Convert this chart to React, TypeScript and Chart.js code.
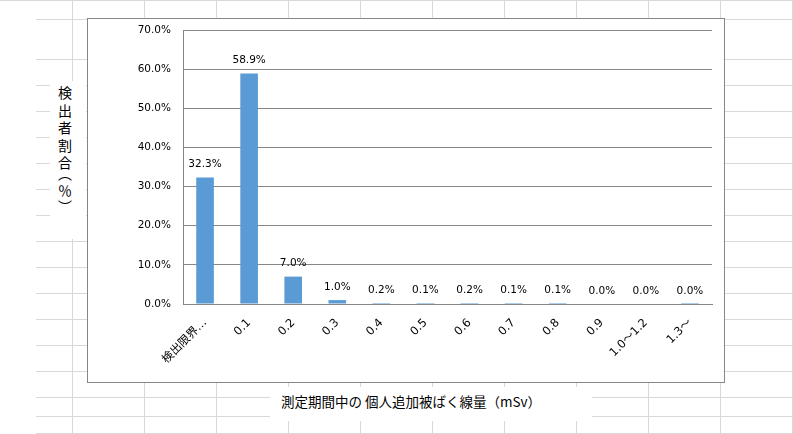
import { useEffect, useRef } from "react"
import { Chart, registerables } from "chart.js"

Chart.register(...registerables)

// categories (dose bands, mSv) and share of people detected (%)
const CATEGORIES = ["検出限界…", "0.1", "0.2", "0.3", "0.4", "0.5", "0.6", "0.7", "0.8", "0.9", "1.0～1.2", "1.3～"]
const SHARES = [32.3, 58.9, 7.0, 1.0, 0.2, 0.1, 0.2, 0.1, 0.1, 0.0, 0.0, 0.04]
const Y_TICKS = [0, 10, 20, 30, 40, 50, 60, 70]

const X_TITLE = "測定期間中の 個人追加被ばく線量（mSv）"
const Y_TITLE = "検出者割合（％）"

// spreadsheet cells behind the chart
const SHEET_ROWS = [0, 19, 59, 85, 111, 137, 163, 189, 215, 241, 267, 293, 319, 345, 371, 397, 416, 433]
const SHEET_COLS = [72, 144, 216, 288, 360, 432, 504, 576, 648, 720, 792]

const FONT = "'DejaVu Sans', 'Noto Sans CJK JP', sans-serif"
const CJK_FONT = "'Noto Sans CJK JP', sans-serif"
const GRID = "#868686"
const BAR = "#5b9bd5"

const valueLabels = {
  id: "valueLabels",
  afterDatasetsDraw(chart: Chart) {
    const { ctx } = chart
    const meta = chart.getDatasetMeta(0)
    const y = chart.scales.y
    ctx.save()
    ctx.font = `10.5px ${FONT}`
    ctx.fillStyle = "#000"
    ctx.textAlign = "center"
    ctx.textBaseline = "middle"
    SHARES.forEach((v, i) => {
      const bar = meta.data[i]
      if (!bar) return
      ctx.fillText(`${v.toFixed(1)}%`, bar.x, y.getPixelForValue(v) - 13)
    })
    ctx.restore()
  },
}

function SheetBackground() {
  return (
    <>
      {SHEET_ROWS.map((r) => (
        <div
          key={"r" + r}
          style={{ position: "absolute", left: r === 0 ? 0 : 36, right: 0, top: r, height: 1, background: "#d9d9d9" }}
        />
      ))}
      {SHEET_COLS.map((c) => (
        <div
          key={"c" + c}
          style={{ position: "absolute", left: c, top: 0, width: 1, height: 434, background: "#d9d9d9" }}
        />
      ))}
    </>
  )
}

export default function App() {
  const chartRef = useRef<HTMLCanvasElement>(null)
  const chartInstance = useRef<Chart | null>(null)

  useEffect(() => {
    document.body.style.margin = "0"
    if (!chartRef.current) return
    const ctx = chartRef.current.getContext("2d")
    if (!ctx) return

    if (chartInstance.current) {
      chartInstance.current.destroy()
    }

    chartInstance.current = new Chart(ctx, {
      type: "bar",
      data: {
        labels: CATEGORIES,
        datasets: [
          {
            data: SHARES.map((v) => (v === 0 ? null : v)),
            backgroundColor: BAR,
            borderWidth: 0,
            barPercentage: 0.4,
            categoryPercentage: 1,
            minBarLength: 1,
          },
        ],
      },
      options: {
        responsive: false,
        animation: false,
        layout: { padding: { top: 11, right: 12, left: 0, bottom: 0 } },
        plugins: {
          legend: { display: false },
          tooltip: { enabled: false },
          title: { display: false },
        },
        scales: {
          x: {
            grid: { display: false, drawTicks: false },
            border: { display: true, color: GRID },
            ticks: {
              color: "#000",
              font: { family: FONT, size: 11.5 },
              minRotation: 45,
              maxRotation: 45,
              autoSkip: false,
              padding: 12,
            },
            afterFit: (scale: any) => {
              scale.height = 78
            },
          },
          y: {
            min: 0,
            max: 70,
            grid: { color: GRID, drawTicks: false },
            border: { display: true, color: GRID },
            afterBuildTicks: (scale: any) => {
              scale.ticks = Y_TICKS.map((value) => ({ value }))
            },
            ticks: {
              color: "#000",
              font: { family: FONT, size: 10.5 },
              padding: 12,
              callback: (v: any) => `${Number(v).toFixed(1)}%`,
            },
            afterFit: (scale: any) => {
              scale.width = 95
              scale.paddingTop = 0
              scale.paddingBottom = 0
            },
          },
        },
      },
      plugins: [valueLabels],
    })

    return () => {
      if (chartInstance.current) {
        chartInstance.current.destroy()
        chartInstance.current = null
      }
    }
  }, [])

  return (
    <div style={{ position: "relative", width: 793, height: 434, overflow: "hidden", background: "#fff" }}>
      <SheetBackground />
      {/* white patch behind the y title */}
      <div style={{ position: "absolute", left: 50, top: 81, width: 36, height: 158, background: "#fff" }} />
      <div
        style={{
          position: "absolute",
          left: 57,
          top: 86,
          writingMode: "vertical-rl",
          fontFamily: CJK_FONT,
          fontSize: 14,
          letterSpacing: 3.5,
          lineHeight: "16px",
          fontFeatureSettings: '"vpal"',
          color: "#000",
        }}
      >
        {Y_TITLE}
      </div>
      {/* white patch behind the x title */}
      <div style={{ position: "absolute", left: 270, top: 387, width: 322, height: 34, background: "#fff" }} />
      <div
        style={{
          position: "absolute",
          left: 281,
          top: 391,
          fontFamily: CJK_FONT,
          fontSize: 13.5,
          lineHeight: "20px",
          color: "#000",
          whiteSpace: "nowrap",
        }}
      >
        {X_TITLE}
      </div>
      {/* chart frame */}
      <div
        style={{
          position: "absolute",
          left: 87,
          top: 18,
          width: 638,
          height: 365,
          border: `1px solid ${GRID}`,
          boxSizing: "border-box",
          background: "#fff",
        }}
      >
        <canvas ref={chartRef} width={636} height={363} style={{ display: "block", width: 636, height: 363 }} />
      </div>
    </div>
  )
}
